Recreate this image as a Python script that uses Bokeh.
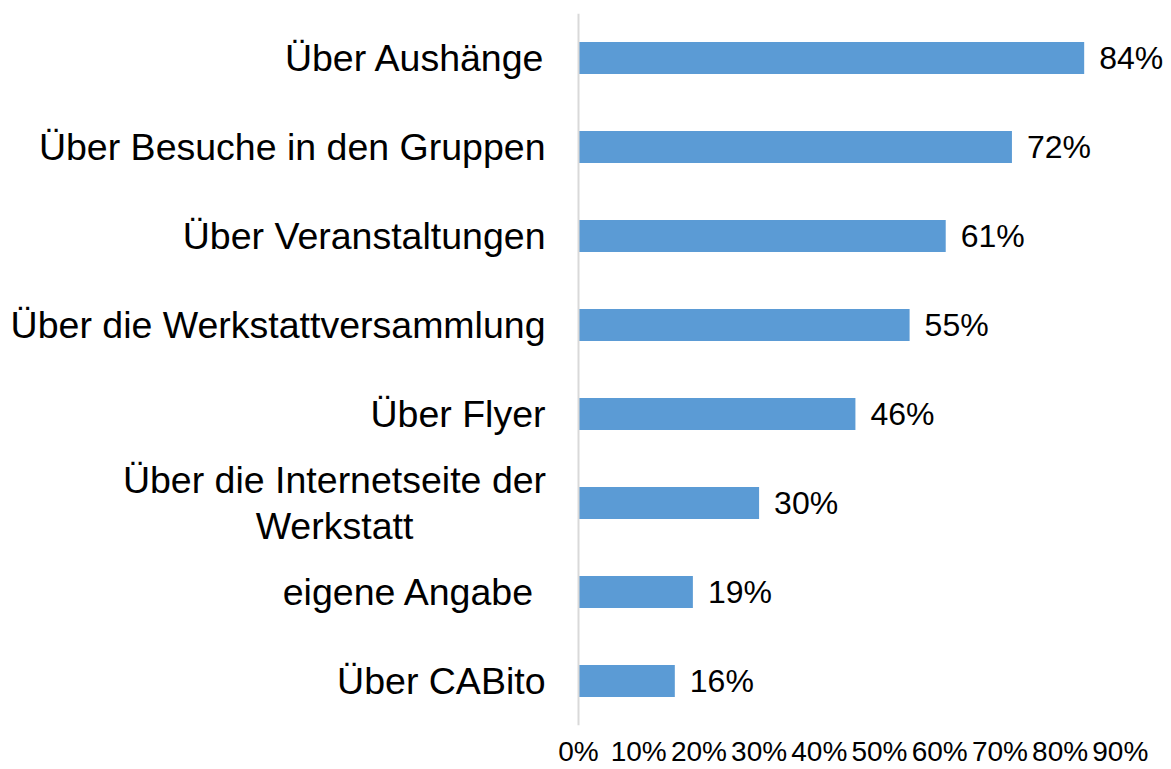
from bokeh.plotting import figure
from bokeh.models import ColumnDataSource, FactorRange, Range1d, FixedTicker, NumeralTickFormatter, Span
from bokeh.core.properties import value
from bokeh.embed import file_html
from bokeh.resources import INLINE

categories = [
    "Über Aushänge",
    "Über Besuche in den Gruppen",
    "Über Veranstaltungen",
    "Über die Werkstattversammlung",
    "Über Flyer",
    "Über die Internetseite der\nWerkstatt",
    "eigene Angabe ",
    "Über CABito",
]
shares = [0.84, 0.72, 0.61, 0.55, 0.46, 0.30, 0.19, 0.16]
value_labels = ["84%", "72%", "61%", "55%", "46%", "30%", "19%", "16%"]
tick_values = [0.0, 0.1, 0.2, 0.3, 0.4, 0.5, 0.6, 0.7, 0.8, 0.9]

FONT = "Liberation Sans"
BAR = "#5b9bd5"

src = ColumnDataSource(dict(cat=categories, v=shares, lab=value_labels))
single = [c for c in categories if "\n" not in c]
multi = [c for c in categories if "\n" in c]

W, H = 1171, 769
left_px = 578          # position of 0% inside the figure
px_per_unit = 602.0    # pixels for 100%

p = figure(
    width=W, height=H,
    y_range=FactorRange(factors=list(reversed(categories))),
    x_range=Range1d(-left_px / px_per_unit, (W - left_px) / px_per_unit),
    output_backend="svg", toolbar_location=None,
    min_border_left=0, min_border_right=0, min_border_top=13, min_border_bottom=42,
)
p.outline_line_color = None
p.grid.grid_line_color = None
p.yaxis.visible = False

p.hbar(y="cat", left=0, right="v", height=0.36, source=src,
       fill_color=BAR, line_color=None)

p.add_layout(Span(location=0, dimension="height", line_color="#d9d9d9", line_width=2))

p.text(x=0, y=single, text=single, x_offset=-33,
       text_align="right", text_baseline="middle",
       text_font=value(FONT), text_font_size="37.5px", text_color="#000000")

p.text(x=0, y=multi, text=multi, x_offset=-244,
       text_align="center", text_baseline="middle",
       text_font=value(FONT), text_font_size="37.5px", text_color="#000000",
       text_line_height=1.1)

p.text(x="v", y="cat", text="lab", source=src, x_offset=15,
       text_align="left", text_baseline="middle",
       text_font=value(FONT), text_font_size="32px", text_color="#000000")

ax = p.xaxis[0]
ax.ticker = FixedTicker(ticks=tick_values)
ax.formatter = NumeralTickFormatter(format="0%")
ax.axis_line_color = None
ax.major_tick_line_color = None
ax.minor_tick_line_color = None
ax.major_tick_out = 0
ax.major_tick_in = 0
ax.major_label_standoff = 10
ax.major_label_text_font = FONT
ax.major_label_text_font_size = "28px"
ax.major_label_text_color = "#000000"

open("out.html", "w").write(file_html(p, INLINE))
